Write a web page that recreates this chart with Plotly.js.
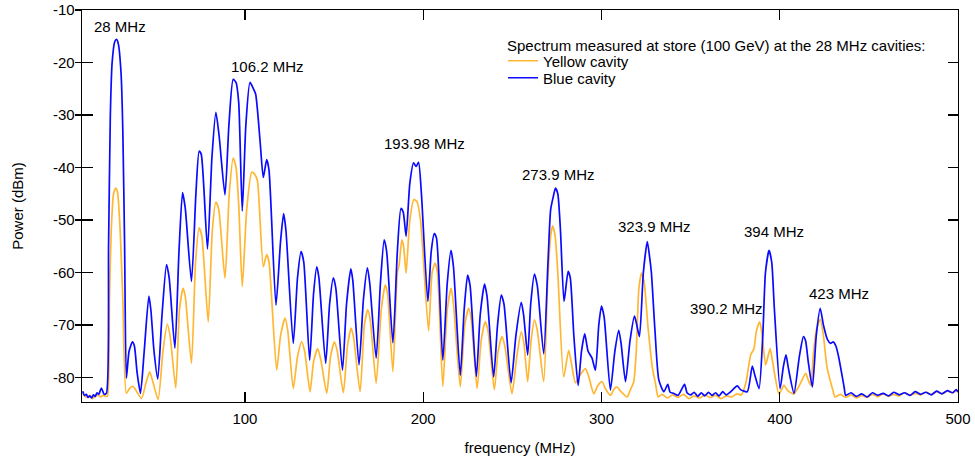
<!DOCTYPE html>
<html>
<head>
<meta charset="utf-8">
<script src="https://cdn.plot.ly/plotly-3.0.1.min.js"></script>
<style>html,body{margin:0;padding:0;background:#fff;}#chart{width:975px;height:461px;}</style>
</head>
<body>
<div id="chart"></div>
<script>
// Yellow cavity spectrum (frequency MHz, power dBm)
const yellowFreq = [9,10,11.5,13,14.5,16,17.5,19,20.5,22,22.9,24,25,26.3,27.5,28.5,30,31.5,33.5,35.5,37.3,39,42,44.5,46.6,48.5,51.3,54,56.4,58,61.2,63.3,65.3,66.5,70,72.3,74.3,75.8,79.4,81.7,83.7,85.3,88.8,91.2,93.4,95,96.5,98.5,101,103.8,105.5,107,110.3,112.2,113.5,117.8,120,122.5,124,127.1,129.5,131.8,133.5,136.5,138.5,140.8,142.5,145.9,148,150.2,151.8,155.2,157.5,159.6,161,164.6,167,168.9,170.3,173.6,176.5,178.7,180,183,185.5,186.5,188,189,190.4,192.5,194.8,196.5,198.5,203,205,206.7,208,211,213.5,215.7,217,220.8,223.3,225.5,227,230.2,232.5,234.8,236.3,239.9,242,244.2,245.8,249.8,252.5,255,256.5,258.6,260.5,262.4,264,267.6,269.8,271.5,272.6,274,275.5,278.8,281.6,283,285.4,288,291,293,295.7,298,300.4,302,305,307,308.8,310.5,314.4,316,318.1,319.5,321,322.5,324,326,328.5,330.3,331.8,334,337,340,343,346,349,352,355,358,361,364,367,370,373,376,378.5,381,383.7,385.5,387,388.8,390,392.1,394.6,396,399.6,402.4,404.5,408,411,414.6,416,417.4,418.9,420.5,422.7,424.5,426.5,429.8,431,434,437,440,443,446,449,452,455,458,461,464,467,470,473,476,479,482,485,488,491,494,497,500];
const yellowPower = [-83.0,-83.5,-83.8,-83.4,-84.0,-83.6,-83.3,-83.7,-83.4,-83.6,-83.5,-65,-52,-45,-43.9,-44.6,-52,-65,-83,-82,-81.7,-82.5,-84,-81,-78.9,-81,-84.2,-75,-69.8,-72,-82,-67,-63,-64.5,-77.3,-58,-51.5,-53,-69.4,-52,-46.6,-48,-61.1,-45,-38.2,-40,-47,-62.7,-48,-40.9,-41.3,-42.5,-58.9,-56.6,-58,-78.6,-72,-68.7,-71,-82.1,-76,-73.2,-75,-82.7,-77,-74.5,-76.5,-83,-76,-73.2,-75,-82.9,-74,-70.6,-72.5,-82.7,-70,-67.1,-69,-81.1,-67,-62.4,-64,-78.9,-60,-58.5,-53.8,-55,-60.1,-50,-46.1,-46.5,-50,-71.1,-60,-58.2,-60,-81.7,-67,-63,-66,-81.8,-70,-66.8,-69,-82.1,-73,-69.4,-71,-82.3,-75,-72.2,-74,-83.1,-76,-71.3,-73.5,-80.8,-73,-69,-71,-80.8,-62,-53,-51.1,-53,-60,-79.9,-74.8,-77,-81,-79.5,-78.3,-80,-83.1,-81.5,-80.8,-82,-83.4,-82.2,-81.8,-82.5,-83.7,-82.5,-80.8,-75,-63,-60.1,-62,-70,-78,-81.1,-83.7,-83.2,-83.9,-83.3,-83.8,-83.2,-84.0,-83.5,-83.9,-83.3,-83.8,-83.4,-84.0,-83.5,-83.7,-83.1,-83.3,-81,-75.7,-74.5,-71,-69.4,-71.5,-77.6,-74.5,-77,-83.1,-81.5,-82.5,-83.1,-81.5,-79.2,-80.5,-81.5,-75.4,-71,-68.9,-72,-78,-82.4,-83.7,-83.2,-83.8,-83.3,-83.9,-83.4,-83.8,-83.2,-83.7,-83.1,-83.6,-83.2,-83.5,-82.9,-83.4,-83.0,-83.3,-82.8,-83.2,-82.7,-83.1,-82.6,-82.9,-82.4,-82.7];

// Blue cavity spectrum (frequency MHz, power dBm)
const blueFreq = [9,10,11,12,13,14,15,16,17,18,19.5,21,22.3,23.5,24.5,25.5,27,28,29,30.5,31.5,32.5,33.5,35,36.9,38,39.5,41.4,43.5,46.1,47.2,49,51.1,53.5,56,57.5,60.7,63,65,66.5,70,72.5,74.3,75.5,79,81.5,83.7,85.5,88.8,91,93.4,95,96.5,98.5,100.5,102.8,104.5,106,108.5,110.3,112.2,113.5,117.4,120,121.7,123,127.1,129.5,131.5,133,136.3,138.5,140.3,141.5,145.3,147.5,149.6,151,154.7,157,159.4,160.5,164,166.5,168.7,170,173.6,176,178.1,179.5,183,185.5,187.5,188.8,190.4,192.5,194.6,196,197.4,199,202.6,204.5,206.2,207.5,211,213.5,215.6,217,220.8,223,224.9,226.3,229.8,232,234.4,235.8,239.5,241.7,243.8,245.3,249.3,252,255,256.3,258.6,260.3,262.4,264,267.6,270,271.5,273,274.2,275.5,277,279,281.3,282.5,284.5,286.9,288.8,290.6,292.5,294.7,296.6,298.5,300,301.5,305,307.5,309.7,311,313.5,316,318.5,319.5,321.3,323.5,325.7,327,328,330,332.2,335,337.2,338.5,340.4,343,346.6,348,350,352,354,356,358,360,362,364,366,368,370,372.5,376.2,378,381.8,384.6,386,388.4,390.5,392,394,395.5,397,400.2,402,403.5,405,408,411,413.3,414.5,416,418.3,420.5,422.7,424.5,426.8,428.5,430,431.5,433,436.1,437,440,443,446,449,452,455,458,461,464,467,470,473,476,479,482,485,488,491,494,497,499,500];
const bluePower = [-82.6,-83.4,-83.2,-83.8,-83.5,-83.9,-83.3,-83.6,-82.9,-83.2,-82.0,-83.2,-83,-55,-30,-20,-16,-15.6,-16.5,-22,-33,-55,-80.1,-75,-73.2,-74,-79,-83,-75,-64.5,-67,-75,-80.3,-68,-58.5,-61,-74.4,-56,-44.8,-47.7,-61.7,-45,-36.9,-37.5,-55.5,-38,-29.5,-33.9,-45.2,-32,-23.2,-23.8,-27.6,-48.3,-32,-23.8,-24.8,-26,-35,-41.9,-38.5,-40.5,-66.2,-54,-48.8,-52,-73.5,-61,-56,-58,-76.7,-64,-58.9,-61,-77.3,-66,-61,-63,-78.6,-66,-59.3,-61.5,-77.6,-65,-59.1,-62,-76.3,-62,-53.8,-56,-73.4,-56,-47.8,-48.5,-53.1,-43,-39.1,-39.8,-39,-45,-65.5,-56,-52.6,-53.5,-76.7,-62,-55.8,-59,-79.6,-67,-60.5,-62.5,-79.8,-68,-62.2,-64.5,-79.9,-70,-64.3,-66,-81,-72,-65.7,-68,-75.7,-66,-60.3,-62.5,-75.5,-58,-48,-45.5,-43.9,-45,-52,-65.5,-59.8,-61,-72,-81.5,-75,-71.7,-75,-76.3,-78.6,-70,-66.4,-68.5,-82.4,-75,-71,-73.5,-80.8,-73,-68.3,-69.5,-72.2,-60,-54.1,-57,-60,-71,-80.5,-82.7,-81.3,-82.8,-83,-83.4,-81.3,-82.9,-83.3,-82.8,-83.6,-82.9,-83.5,-82.8,-83.4,-82.9,-83.5,-82.7,-83.3,-82.7,-81.6,-82.3,-82.7,-77.8,-79.5,-82.1,-72,-60,-55.8,-58,-67,-82.1,-78,-75.7,-78.5,-83,-76,-72.2,-73,-77,-81.8,-72,-66.8,-70,-72.8,-73.5,-73.2,-74,-76,-81.8,-83.4,-82.9,-83.6,-83.1,-83.7,-82.9,-83.4,-83.0,-83.5,-82.8,-83.3,-82.9,-83.4,-82.7,-83.2,-82.8,-83.3,-82.6,-83.1,-82.5,-82.9,-82.3,-82.8];

// Axis ticks
const xTickVals = [100,200,300,400,500];
const xTickText = ['100','200','300','400','500'];
const yTickVals = [-80,-70,-60,-50,-40,-30,-20,-10];
const yTickText = ['-80','-70','-60','-50','-40','-30','-20','-10'];

// Peak labels
const peakLabels = ['28 MHz','106.2 MHz','193.98 MHz','273.9 MHz','323.9 MHz','390.2 MHz','394 MHz','423 MHz'];
const peakLabelX = [30.1,112.4,200.6,275.8,329.5,369.9,396.6,433.1];
const peakLabelY = [-13.1,-20.7,-35.4,-41.3,-51.3,-66.8,-52.2,-63.9];

const legendHeader = 'Spectrum measured at store (100 GeV) at the 28 MHz cavities:';

const FONT = 'Liberation Sans, Arial, sans-serif';
const XR = [8.6, 500];
const YR = [-84.66, -10];

const traces = [
  {x: yellowFreq, y: yellowPower, type:'scatter', mode:'lines', name:'Yellow cavity', legend:'legend',
   line:{color:'#ffb733', width:1.7, shape:'spline', smoothing:0.6}, hoverinfo:'skip'},
  {x: blueFreq, y: bluePower, type:'scatter', mode:'lines', name:'Blue cavity', legend:'legend2',
   line:{color:'#0a0aff', width:1.7, shape:'spline', smoothing:0.6}, hoverinfo:'skip'},
  {x:[null], y:[null], xaxis:'x2', yaxis:'y2', showlegend:false, hoverinfo:'skip', mode:'lines'},
  {x:[null], y:[null], xaxis:'x', yaxis:'y3', showlegend:false, hoverinfo:'skip', mode:'lines'}
];

const annotations = peakLabels.map((t,i)=>({
  text:t, x:peakLabelX[i], y:peakLabelY[i], xref:'x', yref:'y', showarrow:false,
  font:{family:FONT, size:15, color:'#000'}
}));
annotations.push({text:legendHeader, xref:'paper', yref:'paper', x:0.4825, y:0.9107,
  xanchor:'left', yanchor:'middle', showarrow:false, font:{family:FONT, size:15, color:'#000'}});

const baseAxis = {showgrid:false, zeroline:false, fixedrange:true, color:'#000', tickcolor:'#000', tickwidth:1.3};
const legendBase = {xanchor:'left', yanchor:'middle', bgcolor:'rgba(0,0,0,0)',
    font:{family:FONT, size:15, color:'#000'}, itemwidth:30, tracegroupgap:0};

const layout = {
  width:975, height:461,
  margin:{l:82, r:17, t:10, b:59, pad:0},
  paper_bgcolor:'#fff', plot_bgcolor:'#fff',
  font:{family:FONT, size:15, color:'#000'},
  showlegend:true,
  legend: Object.assign({}, legendBase, {x:0.4806, y:0.8699}),
  legend2: Object.assign({}, legendBase, {x:0.4806, y:0.8265}),
  xaxis: Object.assign({}, baseAxis, {range:XR, tickmode:'array', tickvals:xTickVals, ticktext:xTickText,
    ticks:'inside', ticklen:10, showline:true, linecolor:'#000', linewidth:1.3, mirror:true,
    tickfont:{family:FONT, size:15}, ticklabelstandoff:3,
    title:{text:'frequency (MHz)', font:{family:FONT, size:15}, standoff:16}}),
  xaxis2: Object.assign({}, baseAxis, {range:XR, overlaying:'x', side:'top', anchor:'y', tickmode:'array', tickvals:xTickVals,
    ticks:'inside', ticklen:10, showticklabels:false, showline:false}),
  yaxis: Object.assign({}, baseAxis, {range:YR, tickmode:'array', tickvals:yTickVals, ticktext:yTickText,
    ticks:'outside', ticklen:6, showline:true, linecolor:'#000', linewidth:1.3, mirror:true,
    tickfont:{family:FONT, size:15}, ticklabelstandoff:-3,
    title:{text:'Power (dBm)', font:{family:FONT, size:15}, standoff:25}}),
  yaxis2: Object.assign({}, baseAxis, {range:YR, overlaying:'y', side:'right', anchor:'x2', tickmode:'array', tickvals:yTickVals,
    ticks:'inside', ticklen:10, showticklabels:false, showline:false}),
  yaxis3: Object.assign({}, baseAxis, {range:YR, overlaying:'y', side:'left', anchor:'x', tickmode:'array', tickvals:yTickVals,
    ticks:'inside', ticklen:11, showticklabels:false, showline:false}),
  annotations: annotations
};

Plotly.newPlot('chart', traces, layout, {staticPlot:true, displayModeBar:false});
</script>
</body>
</html>
